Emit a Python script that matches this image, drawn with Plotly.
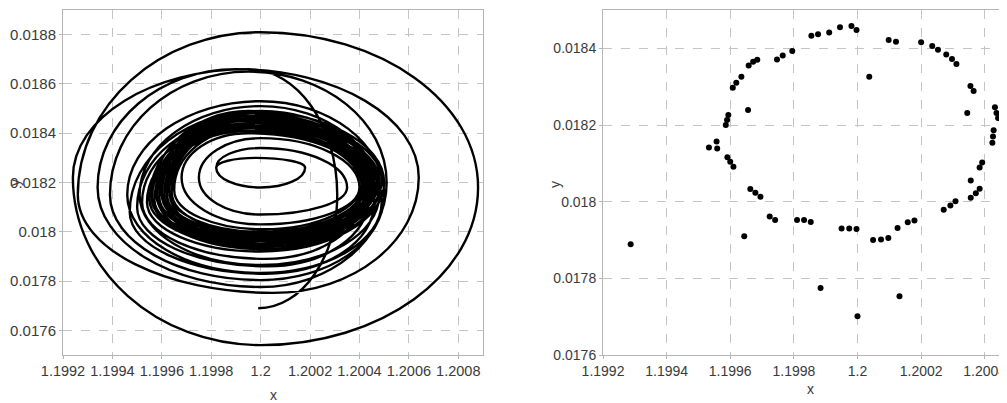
import plotly.graph_objects as go

# ---------------- Left panel: trajectory (loop extremes) ----------------
# initial arc of the trajectory: bottom start -> right side -> top
tail_x = [1.19999, 1.20031, 1.19995]
tail_y = [0.01769, 0.01815, 0.01866]

# each loop (traversed left -> bottom -> right -> top)
loop_left_x = [1.19924, 1.19926, 1.19934, 1.19939, 1.19946, 1.19951, 1.19947, 1.19950, 1.19952,
               1.19954, 1.19956, 1.19955, 1.19958, 1.19957, 1.19960, 1.19959, 1.19961, 1.19956, 1.19962,
               1.19958, 1.19963, 1.19960, 1.19964, 1.19957, 1.19961, 1.19963, 1.19959, 1.19962, 1.19965,
               1.19968, 1.19975, 1.19982]
loop_left_y = [0.01822, 0.01815, 0.01818, 0.01815, 0.01815, 0.01815, 0.01808, 0.01810, 0.01812,
               0.01812, 0.01814, 0.01813, 0.01815, 0.01812, 0.01816, 0.01814, 0.01815, 0.01813, 0.01816,
               0.01814, 0.01817, 0.01815, 0.01816, 0.01813, 0.01815, 0.01816, 0.01814, 0.01815, 0.01817,
               0.01822, 0.01822, 0.01826]
loop_bottom_x = [1.20000, 1.20005, 1.20000, 1.20000, 1.20000, 1.20000, 1.20002, 1.20003, 1.20002,
                 1.20000, 1.20001, 1.20000, 1.20001, 1.20000, 1.20001, 1.20000, 1.20001, 1.20000, 1.20001,
                 1.20000, 1.20001, 1.20000, 1.20001, 1.20000, 1.20001, 1.20000, 1.20001, 1.20000, 1.20001,
                 1.20000, 1.20000, 1.20000]
loop_bottom_y = [0.017540, 0.017752, 0.017776, 0.017804, 0.017833, 0.017865, 0.01783, 0.01786, 0.01789,
                 0.01792, 0.01793, 0.01794, 0.01793, 0.01795, 0.01794, 0.01796, 0.01795, 0.01797, 0.01796,
                 0.01798, 0.01795, 0.01797, 0.01799, 0.01796, 0.01798, 0.01800, 0.01797, 0.01799, 0.01801,
                 0.01803, 0.01807, 0.01818]
loop_right_x = [1.20088, 1.20064, 1.20051, 1.20050, 1.20049, 1.20048, 1.20046, 1.20044, 1.20042,
                1.20050, 1.20048, 1.20049, 1.20046, 1.20047, 1.20045, 1.20048, 1.20044, 1.20046, 1.20043,
                1.20047, 1.20045, 1.20042, 1.20046, 1.20044, 1.20043, 1.20041, 1.20045, 1.20042, 1.20041,
                1.20040, 1.20035, 1.20018]
loop_right_y = [0.01818, 0.01822, 0.01820, 0.01815, 0.01812, 0.01815, 0.01812, 0.01814, 0.01816,
                0.01820, 0.01818, 0.01821, 0.01819, 0.01820, 0.01818, 0.01821, 0.01819, 0.01820, 0.01818,
                0.01821, 0.01819, 0.01820, 0.01822, 0.01819, 0.01820, 0.01818, 0.01821, 0.01819, 0.01820,
                0.01818, 0.01818, 0.01826]
loop_top_x = [1.20000, 1.19990, 1.19995, 1.20000, 1.20000, 1.20000, 1.19995, 1.19996, 1.19995,
              1.19995, 1.19996, 1.19994, 1.19995, 1.19996, 1.19995, 1.19994, 1.19996, 1.19995, 1.19995,
              1.19996, 1.19994, 1.19995, 1.19996, 1.19995, 1.19994, 1.19995, 1.19996, 1.19995, 1.19995,
              1.20000, 1.20000, 1.19998]
loop_top_y = [0.01881, 0.01866, 0.01865, 0.01853, 0.01851, 0.01849, 0.01846, 0.01844, 0.01842,
              0.01849, 0.01848, 0.01847, 0.01848, 0.01846, 0.01847, 0.01845, 0.01846, 0.01844, 0.01845,
              0.01843, 0.01846, 0.01844, 0.01842, 0.01845, 0.01843, 0.01841, 0.01844, 0.01842, 0.01840,
              0.01838, 0.01834, 0.01830]

# ---------------- Right panel: section points ----------------
pts_x = [1.199287, 1.199533, 1.199557, 1.199559, 1.199586, 1.199590, 1.199594, 1.199591, 1.199600,
         1.199610, 1.199608, 1.199619, 1.199635, 1.199656, 1.199658, 1.199672, 1.199685, 1.199644,
         1.199663, 1.199679, 1.199695, 1.199724, 1.199741, 1.199747, 1.199765, 1.199795, 1.199810,
         1.199832, 1.199853, 1.199855, 1.199876, 1.199911, 1.199945, 1.199981, 1.199997, 1.199884,
         1.199950, 1.199974, 1.199997, 1.200000, 1.200037, 1.200049, 1.200074, 1.200097, 1.200098,
         1.200121, 1.200126, 1.200132, 1.200158, 1.200179, 1.200200, 1.200235, 1.200253, 1.200279,
         1.200297, 1.200311, 1.200271, 1.200292, 1.200308, 1.200345, 1.200355, 1.200365, 1.200356,
         1.200356, 1.200372, 1.200384, 1.200384, 1.200392, 1.200424, 1.200426, 1.200428, 1.200432,
         1.200437, 1.200442]
pts_y = [0.017889, 0.018141, 0.018157, 0.018139, 0.018200, 0.018213, 0.018226, 0.018116, 0.018104,
         0.018091, 0.018297, 0.018310, 0.018326, 0.018239, 0.018355, 0.018365, 0.018370, 0.017910,
         0.018033, 0.018023, 0.018013, 0.017961, 0.017952, 0.018371, 0.018381, 0.018393, 0.017952,
         0.017952, 0.017947, 0.018433, 0.018437, 0.018441, 0.018455, 0.018458, 0.018448, 0.017775,
         0.017930, 0.017930, 0.017929, 0.017701, 0.018326, 0.017900, 0.017901, 0.017905, 0.018422,
         0.018417, 0.017931, 0.017753, 0.017946, 0.017951, 0.018416, 0.018406, 0.018396, 0.018384,
         0.018372, 0.018359, 0.017979, 0.017990, 0.018001, 0.018231, 0.018302, 0.018289, 0.018055,
         0.018010, 0.018022, 0.018034, 0.018089, 0.018102, 0.018154, 0.018170, 0.018186, 0.018246,
         0.018231, 0.018218]

# ticks
left_xticks = [1.1992, 1.1994, 1.1996, 1.1998, 1.2, 1.2002, 1.2004, 1.2006, 1.2008]
left_xlabels = ["1.1992", "1.1994", "1.1996", "1.1998", "1.2", "1.2002", "1.2004", "1.2006", "1.2008"]
left_yticks = [0.0176, 0.0178, 0.018, 0.0182, 0.0184, 0.0186, 0.0188]
left_ylabels = ["0.0176", "0.0178", "0.018", "0.0182", "0.0184", "0.0186", "0.0188"]
right_xticks = [1.1992, 1.1994, 1.1996, 1.1998, 1.2, 1.2002, 1.2004]
right_xlabels = ["1.1992", "1.1994", "1.1996", "1.1998", "1.2", "1.2002", "1.2004"]
right_yticks = [0.0176, 0.0178, 0.018, 0.0182, 0.0184]
right_ylabels = ["0.0176", "0.0178", "0.018", "0.0182", "0.0184"]

# ---- anchor sequence: alternating y-extreme (horizontal tangent) / x-extreme (vertical tangent)
anchors = [(tail_x[0], tail_y[0], "h"), (tail_x[1], tail_y[1], "v"), (tail_x[2], tail_y[2], "h")]
for i in range(len(loop_left_x)):
    anchors += [(loop_left_x[i], loop_left_y[i], "v"), (loop_bottom_x[i], loop_bottom_y[i], "h"),
                (loop_right_x[i], loop_right_y[i], "v"), (loop_top_x[i], loop_top_y[i], "h")]
anchors.append((loop_left_x[-1], loop_left_y[-1], "v"))

K = 0.5523  # cubic Bezier handle for elliptic quarter arcs
def fmt(v):
    return "%.7f" % v
path = "M %s,%s" % (fmt(anchors[0][0]), fmt(anchors[0][1]))
for (xa, ya, ta), (xb, yb, tb) in zip(anchors[:-1], anchors[1:]):
    if ta == "h":   # leave horizontally, arrive vertically
        c1 = (xa + K * (xb - xa), ya)
        c2 = (xb, yb + K * (ya - yb))
    else:           # leave vertically, arrive horizontally
        c1 = (xa, ya + K * (yb - ya))
        c2 = (xb + K * (xa - xb), yb)
    path += " C %s,%s %s,%s %s,%s" % (fmt(c1[0]), fmt(c1[1]), fmt(c2[0]), fmt(c2[1]), fmt(xb), fmt(yb))

FONT = "Liberation Sans, Arial, sans-serif"
TICKC = "#3a3a3a"
W, H = 1007, 403
OFF = 8  # page body margin offset (px)

def px_x(p):  # window pixel -> paper x
    return (p - OFF) / W
def px_y(p):  # window pixel (from top) -> paper y
    return (H - (p - OFF)) / H

fig = go.Figure()
# invisible anchor trace so the left subplot exists
fig.add_trace(go.Scatter(x=[a[0] for a in anchors], y=[a[1] for a in anchors], mode="markers",
                         marker=dict(size=1, opacity=0), xaxis="x", yaxis="y",
                         showlegend=False, hoverinfo="skip"))
fig.add_trace(go.Scatter(x=pts_x, y=pts_y, mode="markers",
                         marker=dict(color="black", size=6),
                         xaxis="x2", yaxis="y2", showlegend=False))

fig.add_shape(type="path", path=path, xref="x", yref="y",
              line=dict(color="black", width=2.4), fillcolor="rgba(0,0,0,0)", layer="above")

axis_common = dict(showgrid=True, gridcolor="#c4c4c4", griddash="dash", gridwidth=1,
                   showline=True, linecolor="#b4b4b4", linewidth=1, mirror=True,
                   zeroline=False, ticks="outside", ticklen=3, tickcolor="#b4b4b4",
                   tickmode="array", tickangle=0, automargin=False)

fig.update_layout(
    width=W, height=H,
    margin=dict(l=0, r=0, t=0, b=0),
    paper_bgcolor="white", plot_bgcolor="white",
    xaxis=dict(domain=[px_x(63), px_x(483)], range=[1.1992, 1.2009],
               tickvals=left_xticks, ticktext=left_xlabels, anchor="y",
               tickfont=dict(family=FONT, size=14.5, color=TICKC), **axis_common),
    yaxis=dict(domain=[px_y(355), px_y(10)], range=[0.0175, 0.0189],
               tickvals=left_yticks, ticktext=left_ylabels, anchor="x",
               tickfont=dict(family=FONT, size=15, color=TICKC), **axis_common),
    xaxis2=dict(domain=[px_x(603), px_x(1007)], range=[1.1992, 1.20047],
                tickvals=right_xticks, ticktext=right_xlabels, anchor="y2",
                tickfont=dict(family=FONT, size=14, color=TICKC), **axis_common),
    yaxis2=dict(domain=[px_y(355), px_y(10)], range=[0.0176, 0.0185],
                tickvals=right_yticks, ticktext=right_ylabels, anchor="x2",
                tickfont=dict(family=FONT, size=14, color=TICKC), **axis_common),
    annotations=[
        dict(text="x", x=px_x(273), y=px_y(395), xref="paper", yref="paper",
             xanchor="center", yanchor="middle",
             showarrow=False, font=dict(family=FONT, size=14, color=TICKC)),
        dict(text="y", x=px_x(15), y=px_y(183), xref="paper", yref="paper", textangle=-90,
             xanchor="center", yanchor="middle",
             showarrow=False, font=dict(family=FONT, size=14, color=TICKC)),
        dict(text="x", x=px_x(810), y=px_y(389), xref="paper", yref="paper",
             xanchor="center", yanchor="middle",
             showarrow=False, font=dict(family=FONT, size=14, color=TICKC)),
        dict(text="y", x=px_x(555), y=px_y(185), xref="paper", yref="paper", textangle=-90,
             xanchor="center", yanchor="middle",
             showarrow=False, font=dict(family=FONT, size=14, color=TICKC)),
    ],
)

fig.write_html("out.html")
